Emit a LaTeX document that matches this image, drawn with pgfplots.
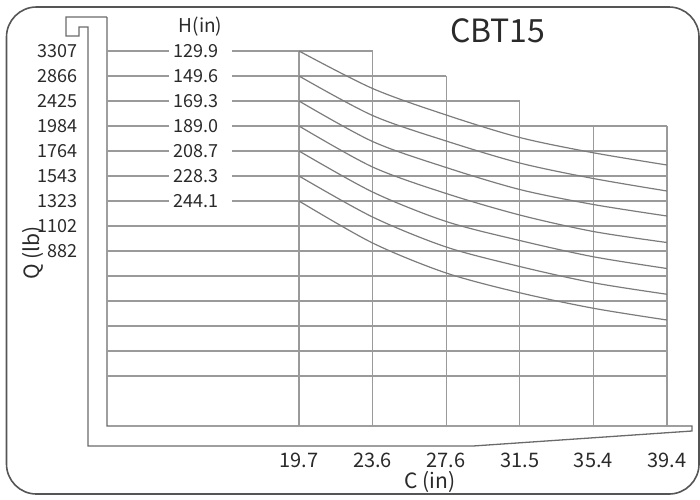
\documentclass[border=0pt]{standalone}
\usepackage{pgfplots}
\pgfplotsset{compat=1.18}
\usepackage{fontspec}
\setmainfont{Noto Sans CJK SC}
\definecolor{gridc}{HTML}{9A9A9A}
\definecolor{curvec}{HTML}{7C7C7C}
\definecolor{framec}{HTML}{6A6A6A}
\definecolor{outerc}{HTML}{555555}
\definecolor{textc}{HTML}{2A2A2A}
\begin{document}
\begin{tikzpicture}
\begin{axis}[
  x=9.345pt, y=12.5pt, y dir=reverse,
  xmin=9.412, xmax=39.37, ymin=-1.36, ymax=15,
  clip=false,
  axis line style={draw=none},
  major tick length=0pt,
  /pgf/number format/assume math mode=true,
  xtick={19.685,23.622,27.559,31.496,35.433,39.370},
  xticklabels={19.7,23.6,27.6,31.5,35.4,39.4},
  ytick={0,1,2,3,4,5,6,7,8},
  yticklabels={3307,2866,2425,1984,1764,1543,1323,1102,882},
  xticklabel style={anchor=north, inner sep=0pt, yshift=-13.5pt, font=\fontsize{10}{12}\selectfont, text=textc},
  yticklabel style={anchor=east, inner sep=0pt, xshift=-14.5pt, font=\fontsize{9}{11}\selectfont, text=textc},
  xlabel={C (in)},
  xlabel style={at={(axis description cs:0.577,-0.137)}, anchor=center, font=\fontsize{10.5}{12}\selectfont, text=textc},
  ylabel={Q (lb)},
  ylabel style={at={(axis description cs:-0.132,0.423)}, anchor=center, font=\fontsize{10.5}{12}\selectfont, text=textc},
  title={CBT15},
  title style={at={(axis description cs:0.698,0.936)}, anchor=center, font=\fontsize{16}{18}\selectfont, text=textc},
]
% invisible full-picture bounds and outer frame
\path (axis cs:3.687,-2.04) rectangle (axis cs:41.14,17.8);
\draw[outerc, line width=0.8pt, rounded corners=15pt] (axis cs:4.035,-1.76) rectangle (axis cs:41.087,17.72);

% crane-shaped frame
\addplot[framec, line width=0.65pt, mark=none] coordinates {
 (9.412,-1.36) (9.412,15) (40.712,15) (40.712,15.2) (28.995,15.8) (8.396,15.8)
 (8.396,-0.96) (7.914,-0.96) (7.914,-0.6) (7.219,-0.6) (7.219,-1.36) (9.412,-1.36)};

% horizontal grid rows (with gap for H labels on rows 0-6)
\pgfplotsinvokeforeach{0,1,2,3,4,5,6}{
  \addplot[gridc, line width=0.6pt, mark=none] coordinates {(9.412,#1) (12.729,#1)};
}
\addplot[gridc, line width=0.6pt, mark=none] coordinates {(16.100,0) (23.622,0)};
\addplot[gridc, line width=0.6pt, mark=none] coordinates {(16.100,1) (27.559,1)};
\addplot[gridc, line width=0.6pt, mark=none] coordinates {(16.100,2) (31.496,2)};
\pgfplotsinvokeforeach{3,4,5,6}{
  \addplot[gridc, line width=0.6pt, mark=none] coordinates {(16.100,#1) (39.370,#1)};
}
\pgfplotsinvokeforeach{7,8,9,10,11,12,13}{
  \addplot[gridc, line width=0.6pt, mark=none] coordinates {(9.412,#1) (39.370,#1)};
}
% vertical grid columns
\addplot[gridc, line width=0.6pt, mark=none] coordinates {(19.685,0) (19.685,15)};
\addplot[gridc, line width=0.6pt, mark=none] coordinates {(23.622,0) (23.622,15)};
\addplot[gridc, line width=0.6pt, mark=none] coordinates {(27.559,1) (27.559,15)};
\addplot[gridc, line width=0.6pt, mark=none] coordinates {(31.496,2) (31.496,15)};
\addplot[gridc, line width=0.6pt, mark=none] coordinates {(35.433,3) (35.433,15)};
\addplot[gridc, line width=0.6pt, mark=none] coordinates {(39.370,3) (39.370,15)};

% load curves
\addplot[curvec, line width=0.6pt, smooth, mark=none] coordinates {(19.685,0) (23.622,1.50) (27.559,2.56) (31.496,3.46) (35.433,4.07) (39.370,4.56)};
\addplot[curvec, line width=0.6pt, smooth, mark=none] coordinates {(19.685,1) (23.622,2.58) (27.559,3.60) (31.496,4.48) (35.433,5.10) (39.370,5.60)};
\addplot[curvec, line width=0.6pt, smooth, mark=none] coordinates {(19.685,2) (23.622,3.62) (27.559,4.66) (31.496,5.54) (35.433,6.14) (39.370,6.60)};
\addplot[curvec, line width=0.6pt, smooth, mark=none] coordinates {(19.685,3) (23.622,4.64) (27.559,5.70) (31.496,6.56) (35.433,7.22) (39.370,7.66)};
\addplot[curvec, line width=0.6pt, smooth, mark=none] coordinates {(19.685,4) (23.622,5.64) (27.559,6.82) (31.496,7.58) (35.433,8.23) (39.370,8.70)};
\addplot[curvec, line width=0.6pt, smooth, mark=none] coordinates {(19.685,5) (23.622,6.64) (27.559,7.84) (31.496,8.62) (35.433,9.27) (39.370,9.73)};
\addplot[curvec, line width=0.6pt, smooth, mark=none] coordinates {(19.685,6) (23.622,7.68) (27.559,8.88) (31.496,9.67) (35.433,10.29) (39.370,10.76)};

% H labels
\node[text=textc, font=\fontsize{9.5}{11}\selectfont, anchor=center] at (axis cs:14.415,-0.96) {H(in)};
\node[text=textc, font=\fontsize{9}{11}\selectfont, inner sep=0pt] at (axis cs:14.174,0) {129.9};
\node[text=textc, font=\fontsize{9}{11}\selectfont, inner sep=0pt] at (axis cs:14.174,1) {149.6};
\node[text=textc, font=\fontsize{9}{11}\selectfont, inner sep=0pt] at (axis cs:14.174,2) {169.3};
\node[text=textc, font=\fontsize{9}{11}\selectfont, inner sep=0pt] at (axis cs:14.174,3) {189.0};
\node[text=textc, font=\fontsize{9}{11}\selectfont, inner sep=0pt] at (axis cs:14.174,4) {208.7};
\node[text=textc, font=\fontsize{9}{11}\selectfont, inner sep=0pt] at (axis cs:14.174,5) {228.3};
\node[text=textc, font=\fontsize{9}{11}\selectfont, inner sep=0pt] at (axis cs:14.174,6) {244.1};
\end{axis}
\end{tikzpicture}
\end{document}
